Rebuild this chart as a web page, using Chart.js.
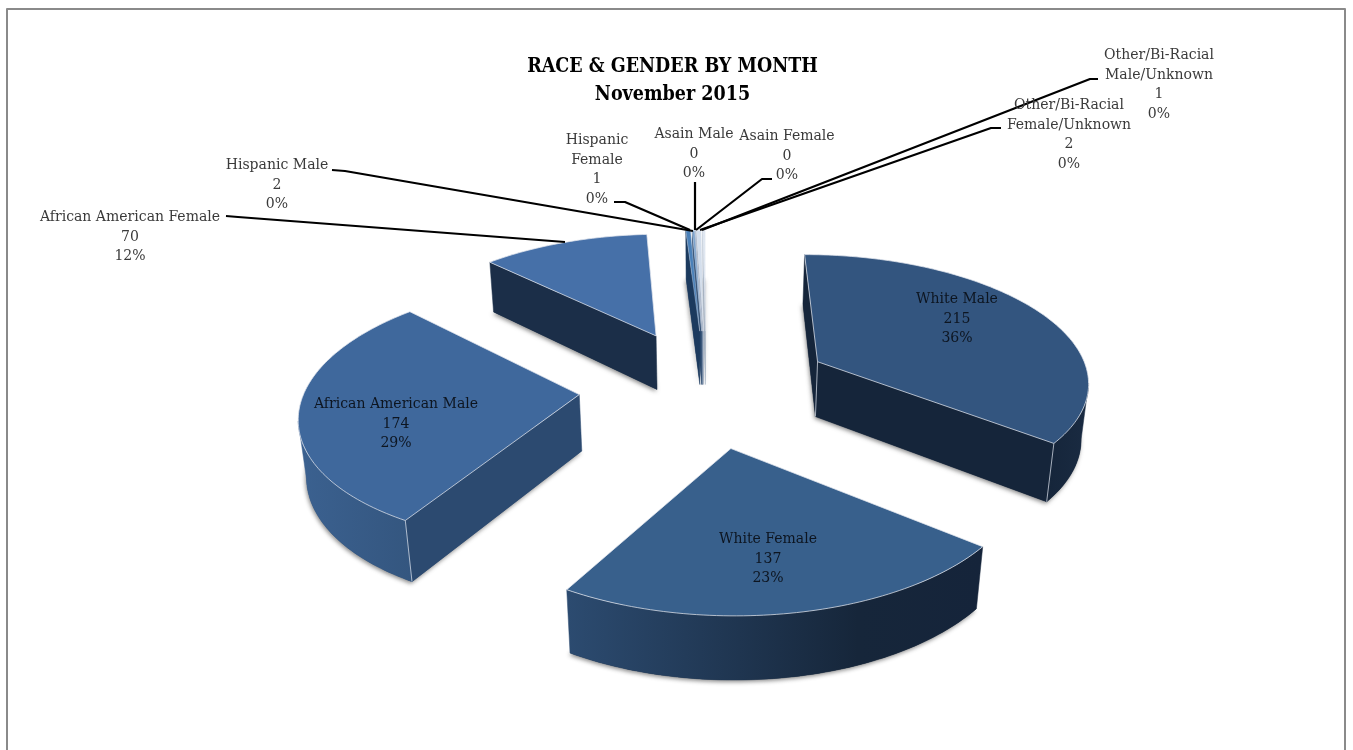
<!DOCTYPE html>
<html><head><meta charset="utf-8">
<style>html,body{margin:0;padding:0;background:#fff;overflow:hidden}#w{position:absolute;left:0;top:0;width:1353px;height:750px}</style>
<script src="https://cdn.jsdelivr.net/npm/chart.js@4"></script>
</head><body><div id="w"><canvas id="c" width="1353" height="750"></canvas></div>
<script>
const titleLines = ['RACE & GENDER BY MONTH', 'November 2015'];
const categories = ['White Male','White Female','African American Male','African American Female','Hispanic Male','Hispanic Female','Asain Male','Asain Female','Other/Bi-Racial Female/Unknown','Other/Bi-Racial Male/Unknown'];
const labelLines = [['White Male'],['White Female'],['African American Male'],['African American Female'],['Hispanic Male'],['Hispanic','Female'],['Asain Male'],['Asain Female'],['Other/Bi-Racial','Female/Unknown'],['Other/Bi-Racial','Male/Unknown']];
const counts = [215,137,174,70,2,1,0,0,2,1];
const topColors = ['#33557f','#38608c','#3f689c','#4670a8','#4a80b8','#7ba2cc','#a9c1de','#c6d5e8','#d3deec','#dfe7f1'];
const wallStops = [
  [[0,'#15253a'],[1,'#1a2b42']],
  [[0,'#2c4b70'],[0.7,'#16263a'],[1,'#15243a']],
  [[0,'#3b6190'],[1,'#34567f']],
  [[0,'#1b2e48'],[1,'#1b2e48']],
  [[0,'#1c3a5e'],[1,'#1c3a5e']],[[0,'#2c4b70'],[1,'#2c4b70']],[[0,'#5d7a9c'],[1,'#5d7a9c']],[[0,'#7b8ea8'],[1,'#7b8ea8']],[[0,'#9aa9bd'],[1,'#9aa9bd']],[[0,'#a9b6c6'],[1,'#a9b6c6']]];
const cutColors = ['#15253a','#16263a','#2c4a70','#1b2e48','#1c3a5e','#2c4b70','#5d7a9c','#7b8ea8','#9aa9bd','#a9b6c6'];
// label centre x, first-line centre y, leader line
const labelPos = [[957,299],[768,539],[396,404],[130,217],[277,165],[597,140],[694,134],[787,136],[1069,105],[1159,55]];
const leaders = [null,null,null,[[226,216],[238,217],[565,242]],[[332,170],[345,171],[693,231]],[[614,202],[625,202],[690,230]],[[695,182],[695,230]],[[772,179],[762,179],[696,230]],[[1001,128],[991,128],[700,230]],[[1098,79],[1090,79],[702,230]]];

const cam = {cx:706.17, cy:386.77, a:273.67, b:127.29, k:0.1311, m:0.02, h:56, g:0.1, explode:0.464};
function project(u,v,z){
  const w = 1 - cam.k*v;
  return [cam.cx + cam.a*u/(w + cam.m*z), cam.cy + cam.b*v/w + z*cam.h*(1+cam.g*v)];
}
function poly(ctx,pts){ctx.beginPath();pts.forEach((p,j)=>j?ctx.lineTo(p[0],p[1]):ctx.moveTo(p[0],p[1]));ctx.closePath();}
function fillFace(ctx,pts,fill){poly(ctx,pts);ctx.fillStyle=fill;ctx.strokeStyle=fill;ctx.lineWidth=0.5;ctx.fill();ctx.stroke();}
const pie3d = {
  id:'pie3d',
  beforeDatasetsDraw(chart){
    const ctx = chart.ctx, arcs = chart.getDatasetMeta(0).data;
    const order = arcs.map((e,i)=>i).sort((i,j)=>{
      const mi=(arcs[i].startAngle+arcs[i].endAngle)/2, mj=(arcs[j].startAngle+arcs[j].endAngle)/2;
      return Math.sin(mi)-Math.sin(mj);
    });
    for(const i of order){
      const el=arcs[i], s=el.startAngle, t=el.endAngle, mid=(s+t)/2;
      const ox=Math.cos(mid)*cam.explode, oy=Math.sin(mid)*cam.explode;
      const n=Math.max(2,Math.ceil((t-s)/0.02));
      const pts=[[ox,oy]];
      for(let j=0;j<=n;j++){const a=s+(t-s)*j/n;pts.push([ox+Math.cos(a),oy+Math.sin(a)]);}
      const top=pts.map(p=>project(p[0],p[1],0)), bot=pts.map(p=>project(p[0],p[1],1));
      const N=top.length;
      const vis=j=>top[(j+1)%N][0]<top[j][0];
      // soft ground shadow
      ctx.save();ctx.shadowColor='rgba(90,90,90,.7)';ctx.shadowBlur=4;ctx.shadowOffsetX=-1;ctx.shadowOffsetY=2;
      poly(ctx,bot);ctx.fillStyle=cutColors[i];ctx.fill();ctx.restore();
      // straight cut faces
      if(vis(0)) fillFace(ctx,[top[0],top[1],bot[1],bot[0]],cutColors[i]);
      if(vis(N-1)) fillFace(ctx,[top[N-1],top[0],bot[0],bot[N-1]],cutColors[i]);
      // curved wall, one polygon per visible run
      let j=1;
      while(j<N-1){
        if(!vis(j)){j++;continue;}
        let e=j;while(e<N-1&&vis(e))e++;
        const run=[];for(let q=j;q<=e;q++)run.push(top[q]);for(let q=e;q>=j;q--)run.push(bot[q]);
        const xs=run.map(p=>p[0]);const g=ctx.createLinearGradient(Math.min(...xs),0,Math.max(...xs),0);
        wallStops[i].forEach(c=>g.addColorStop(c[0],c[1]));
        fillFace(ctx,run,g);
        j=e;if(j<N-1)j++;
      }
      // top face
      poly(ctx,top);ctx.fillStyle=el.options.backgroundColor;ctx.fill();
      ctx.strokeStyle=(t-s)<0.1?'rgba(225,230,238,.35)':'rgba(225,230,238,.75)';ctx.lineWidth=1;ctx.lineJoin='round';ctx.stroke();
      // pale arrises where two visible side faces meet
      ctx.strokeStyle='rgba(215,222,232,.75)';
      const corners=[[1,vis(0)&&vis(1)],[N-1,vis(N-2)&&vis(N-1)],[0,vis(N-1)&&vis(0)]];
      if((t-s)>=0.1) corners.forEach(c=>{if(!c[1])return;ctx.beginPath();ctx.moveTo(top[c[0]][0],top[c[0]][1]);ctx.lineTo(bot[c[0]][0],bot[c[0]][1]);ctx.stroke();});
    }
    return false;
  },
  afterDraw(chart){
    const ctx=chart.ctx, total=counts.reduce((a,b)=>a+b,0);
    ctx.save();
    ctx.strokeStyle='#8a8a8a';ctx.lineWidth=2;ctx.strokeRect(7,9,1338,760);
    ctx.strokeStyle='#000';ctx.lineWidth=2.2;ctx.lineJoin='round';
    leaders.forEach(l=>{if(!l)return;ctx.beginPath();l.forEach((p,j)=>j?ctx.lineTo(p[0],p[1]):ctx.moveTo(p[0],p[1]));ctx.stroke();});
    ctx.textAlign='center';ctx.textBaseline='middle';ctx.font='15.6px "DejaVu Serif Condensed"';
    categories.forEach((c,i)=>{
      const lines=[...labelLines[i],String(counts[i]),Math.round(counts[i]/total*100)+'%'];
      ctx.fillStyle=i<3?'#0d1520':'#3a3a3a';
      lines.forEach((t,j)=>ctx.fillText(t,labelPos[i][0],labelPos[i][1]+j*19.6));
    });
    ctx.restore();
  }
};
new Chart(document.getElementById('c'),{
  type:'pie',
  data:{labels:categories,datasets:[{data:counts,backgroundColor:topColors,borderWidth:0}]},
  plugins:[pie3d],
  options:{
    responsive:false,animation:false,events:[],rotation:-0.08,
    layout:{padding:{top:53,right:8}},
    plugins:{legend:{display:false},tooltip:{enabled:false},
      title:{display:true,text:titleLines,color:'#000',font:{family:'"DejaVu Serif Condensed"',size:19.5,weight:'bold',lineHeight:1.43},padding:{top:0,bottom:0}}}
  }
});
</script></body></html>
